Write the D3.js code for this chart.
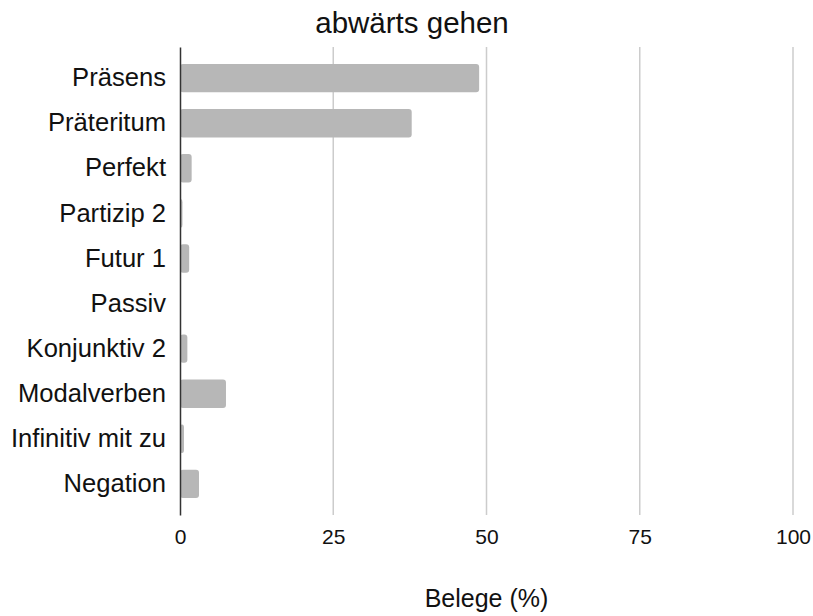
<!DOCTYPE html>
<html>
<head>
<meta charset="utf-8">
<script src="https://cdn.jsdelivr.net/npm/d3@7"></script>
<style>
  body { margin: 0; background: #fff; }
  text { font-family: "Liberation Sans", Arial, sans-serif; fill: #111; }
</style>
</head>
<body>
<div id="chart"></div>
<script>
// Data
var categories = ["Präsens", "Präteritum", "Perfekt", "Partizip 2", "Futur 1",
  "Passiv", "Konjunktiv 2", "Modalverben", "Infinitiv mit zu", "Negation"];
var values = [48.8, 37.8, 1.9, 0.4, 1.5, 0, 1.2, 7.5, 0.65, 3.1];
var ticks = [0, 25, 50, 75, 100];

// Set up chart
var svgWidth = 813;
var svgHeight = 616;

var margin = { top: 47, right: 20, bottom: 101, left: 180 };

var width = 793 - margin.left;
var height = svgHeight - margin.top - margin.bottom;

var svg = d3.select("#chart")
  .append("svg")
  .attr("width", svgWidth)
  .attr("height", svgHeight);

var chartGroup = svg.append("g")
  .attr("transform", `translate(${margin.left}, ${margin.top})`);

// Scales
var xScale = d3.scaleLinear()
  .domain([0, 100])
  .range([0, width]);

var yScale = d3.scaleBand()
  .domain(categories)
  .range([0, height])
  .paddingInner(0.37)
  .paddingOuter(0.375);

// Gridlines
chartGroup.selectAll(".grid")
  .data(ticks.slice(1))
  .enter()
  .append("line")
  .attr("class", "grid")
  .attr("x1", d => xScale(d))
  .attr("x2", d => xScale(d))
  .attr("y1", 0)
  .attr("y2", height)
  .attr("stroke", "#cccccc")
  .attr("stroke-width", 1.5);

// Bars
chartGroup.selectAll("rect")
  .data(values)
  .enter()
  .append("rect")
  .attr("x", xScale(0))
  .attr("y", (d, i) => yScale(categories[i]))
  .attr("width", d => xScale(d))
  .attr("height", yScale.bandwidth())
  .attr("rx", 3)
  .attr("fill", "#b7b7b7");

// Axes
var bottomAxis = d3.axisBottom(xScale).tickValues(ticks).tickSize(0).tickPadding(14);
var leftAxis = d3.axisLeft(yScale).tickSize(0).tickPadding(14);

var xAxisG = chartGroup.append("g")
  .attr("transform", `translate(0, ${height})`)
  .call(bottomAxis);
xAxisG.select(".domain").remove();
xAxisG.selectAll("text")
  .style("font-size", "21px")
  .style("font-family", "Liberation Sans, Arial, sans-serif")
  .attr("fill", "#111");

var yAxisG = chartGroup.append("g")
  .call(leftAxis);
yAxisG.select(".domain")
  .attr("stroke", "#333")
  .attr("stroke-width", 1.5);
yAxisG.selectAll("text")
  .style("font-size", "25.6px")
  .style("font-family", "Liberation Sans, Arial, sans-serif")
  .attr("fill", "#111");

// Title and axis label
svg.append("text")
  .attr("x", 412)
  .attr("y", 33)
  .attr("text-anchor", "middle")
  .style("font-size", "29.5px")
  .text("abwärts gehen");

chartGroup.append("text")
  .attr("x", width / 2)
  .attr("y", height + 92)
  .attr("text-anchor", "middle")
  .style("font-size", "25px")
  .text("Belege (%)");
</script>
</body>
</html>
